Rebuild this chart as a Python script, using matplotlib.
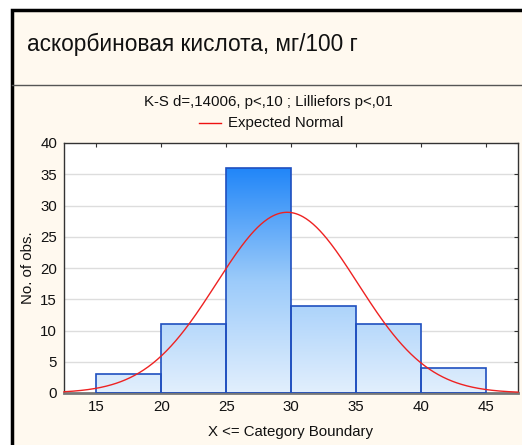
import numpy as np
import matplotlib
matplotlib.use("Agg")
import matplotlib.pyplot as plt
from matplotlib.patches import Rectangle
from matplotlib.colors import LinearSegmentedColormap

# ---- data ----
bin_edges = [15, 20, 25, 30, 35, 40, 45]
counts = [3, 11, 36, 14, 11, 4]
x_ticks = [15, 20, 25, 30, 35, 40, 45]
y_ticks = [0, 5, 10, 15, 20, 25, 30, 35, 40]
fit_mean = 29.7
fit_sd = 5.45
title = "аскорбиновая кислота, мг/100 г"
subtitle = "K-S d=,14006, p<,10 ; Lilliefors p<,01"
legend_label = "Expected Normal"
xlabel = "X <= Category Boundary"
ylabel = "No. of obs."

W, H = 522, 445
DPI = 100
plt.rcParams['font.family'] = ['Liberation Sans', 'DejaVu Sans']
fig = plt.figure(figsize=(W / DPI, H / DPI), dpi=DPI, facecolor='white')

def fx(px):
    return px / W

def fy(py):
    return 1 - py / H

FS = 10.8
cream = '#FFF9EF'
# outer panel
fig.patches.append(Rectangle((fx(12), fy(460)), fx(530) - fx(12), fy(10) - fy(460),
                             transform=fig.transFigure, facecolor=cream,
                             edgecolor='black', linewidth=2.5, zorder=-10))
# separator line under title
fig.add_artist(plt.Line2D([fx(12), fx(522)], [fy(85), fy(85)], transform=fig.transFigure,
                          color='#555555', linewidth=1.0, zorder=-5))

fig.text(fx(27), fy(44), title, fontsize=16.3, va='center', ha='left', color='#111111')
fig.text(fx(268.5), fy(102), subtitle, fontsize=FS, va='center', ha='center', color='#111111')
# legend
fig.add_artist(plt.Line2D([fx(199), fx(221)], [fy(123), fy(123)], transform=fig.transFigure,
                          color='#EE1111', linewidth=1.0))
fig.text(fx(228), fy(123), legend_label, fontsize=FS, va='center', ha='left', color='#111111')

left, right, top, bottom = 64, 518, 143, 393
ax = fig.add_axes([fx(left), fy(bottom), fx(right) - fx(left), fy(top) - fy(bottom)])
ax.set_zorder(5)
ax.set_facecolor('white')
ax.set_xlim(12.5, 47.5)
ax.set_ylim(0, 40)

for yv in y_ticks[1:-1]:
    ax.axhline(yv, color='#DDDDDD', linewidth=1.0, zorder=1)

cmap = LinearSegmentedColormap.from_list('g', ['#E2EFFD', '#9CCBFA', '#2186F8'])
grad = np.linspace(0, 1, 256).reshape(-1, 1)
for i, c in enumerate(counts):
    x0, x1 = bin_edges[i], bin_edges[i + 1]
    im = ax.imshow(grad, aspect='auto', cmap=cmap, origin='lower',
                   extent=[12.5, 47.5, 0, 36], zorder=2, interpolation='bilinear')
    rect = Rectangle((x0, 0), x1 - x0, c, facecolor='none', edgecolor='#1F4FBF',
                     linewidth=1.2, zorder=3)
    ax.add_patch(rect)
    im.set_clip_path(rect)
ax.set_xlim(12.5, 47.5)
ax.set_ylim(0, 40)

xs = np.linspace(12.5, 47.5, 400)
n = sum(counts)
bw = bin_edges[1] - bin_edges[0]
ys = n * bw / (fit_sd * np.sqrt(2 * np.pi)) * np.exp(-0.5 * ((xs - fit_mean) / fit_sd) ** 2)
ax.plot(xs, ys, color='#EE2222', linewidth=1.0, zorder=4, clip_on=False)

ax.set_xticks(x_ticks)
ax.set_yticks(y_ticks)
ax.tick_params(axis='both', labelsize=FS, colors='#111111', length=0, pad=5)
ax.tick_params(axis='x', top=True, direction='in', length=3, color='#333333')
ax.tick_params(axis='y', right=True, direction='in', length=3, color='#333333')
ax.tick_params(axis='x', bottom=False)
ax.tick_params(axis='y', left=False)
for s in ['top', 'left', 'right']:
    ax.spines[s].set_color('#333333')
    ax.spines[s].set_linewidth(1.0)
ax.spines['bottom'].set_color('#777777')
ax.spines['bottom'].set_linewidth(2.0)

fig.text(fx(291), fy(432), xlabel, fontsize=FS, ha='center', va='center', color='#111111')
fig.text(fx(28), fy(268), ylabel, fontsize=FS, ha='center', va='center', rotation=90, color='#111111')

fig.savefig('out.png', dpi=DPI, facecolor='white')
